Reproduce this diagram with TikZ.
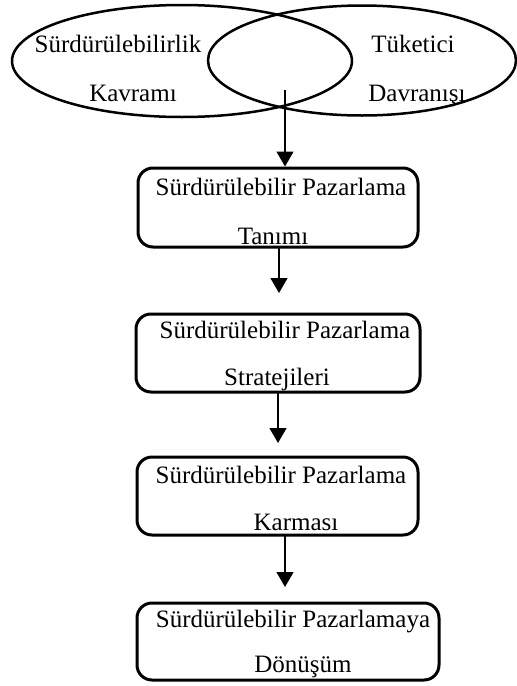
\documentclass[tikz,border=0pt]{standalone}
\usepackage{fontspec}
\setmainfont{Liberation Serif}
\usetikzlibrary{shapes.geometric,arrows.meta}
\begin{document}
\begin{tikzpicture}[x=0.5pt,y=-0.5pt,
  txt/.style={font=\fontsize{12.5pt}{15pt}\selectfont, inner sep=0pt, anchor=base},
  oval/.style={draw, ellipse, line width=1.25pt, inner sep=0pt},
  stage/.style={draw, rounded corners=7.5pt, line width=1.5pt, inner sep=0pt},
  flow/.style={line width=0.65pt, -{Triangle[width=8.5pt,length=7.5pt]}}]
\useasboundingbox (0,0) rectangle (517,686);

% two overlapping concepts
\node[oval, minimum width=170pt, minimum height=56pt] (e1) at (182,61) {};
\node[oval, minimum width=154pt, minimum height=55pt] (e2) at (362,60.5) {};
\node[txt] (t1) at (118,52) {Sürdürülebilirlik};
\node[txt] (t2) at (133,101) {Kavramı};
\node[txt] (t3) at (413,52) {Tüketici};
\node[txt] (t4) at (417,101) {Davranışı};

% stages
\node[stage, minimum width=140pt, minimum height=39.5pt] (b1) at (278,207.5) {};
\node[txt] (b1a) at (281,195) {Sürdürülebilir Pazarlama};
\node[txt] (b1b) at (273,244) {Tanımı};

\node[stage, minimum width=142pt, minimum height=39pt] (b2) at (278,353) {};
\node[txt] (b2a) at (285,338) {Sürdürülebilir Pazarlama};
\node[txt] (b2b) at (277,385) {Stratejileri};

\node[stage, minimum width=140.5pt, minimum height=39pt] (b3) at (277.5,496) {};
\node[txt] (b3a) at (281,483) {Sürdürülebilir Pazarlama};
\node[txt] (b3b) at (296,530) {Karması};

\node[stage, minimum width=151pt, minimum height=38.5pt] (b4) at (288,641.5) {};
\node[txt] (b4a) at (293,627) {Sürdürülebilir Pazarlamaya};
\node[txt] (b4b) at (303,672) {Dönüşüm};

% arrows between stages
\coordinate (s1) at (285,90);
\coordinate (s2) at (279,248);
\coordinate (e2t) at (279,293);
\coordinate (s3) at (278,393);
\coordinate (e3t) at (278,443);
\coordinate (s4) at (285,536);
\coordinate (e4t) at (285,587);
\draw[flow] (s1) -- (b1.north -| s1);
\draw[flow] (s2) -- (e2t);
\draw[flow] (s3) -- (e3t);
\draw[flow] (s4) -- (e4t);
\end{tikzpicture}
\end{document}
